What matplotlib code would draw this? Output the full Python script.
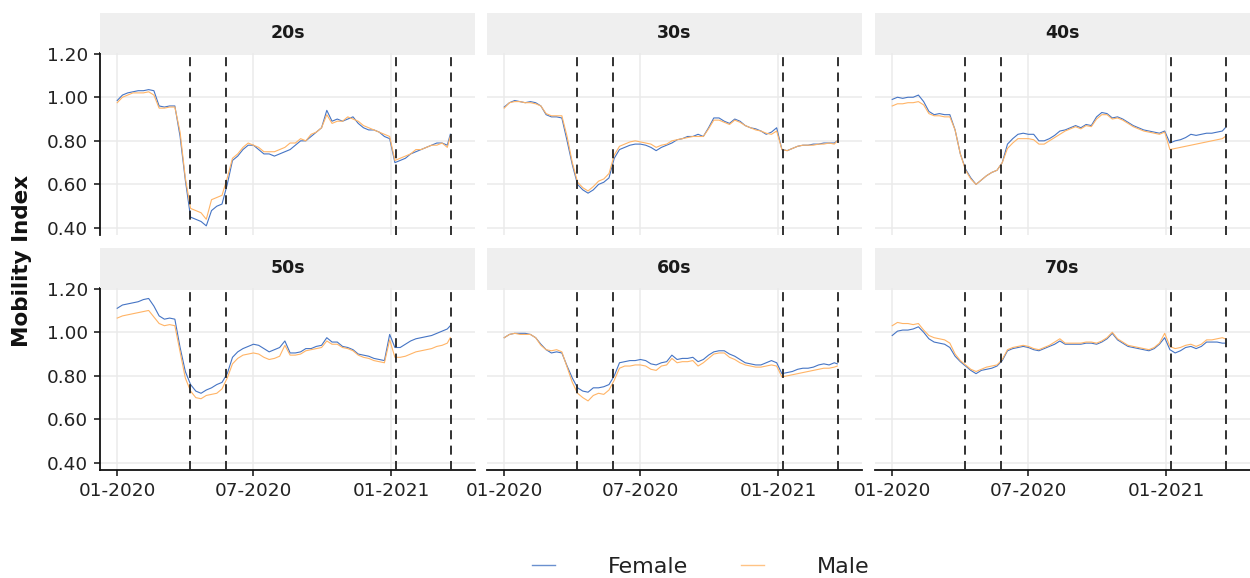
import matplotlib
matplotlib.use("Agg")
import matplotlib.pyplot as plt
import matplotlib.dates as mdates
from matplotlib.lines import Line2D
import pandas as pd

plt.rcParams['font.family'] = ['DejaVu Sans']

# weekly sample dates (2020-01-01 .. 2021-03-17) plus final day 2021-03-21
dates = list(pd.date_range("2020-01-01", periods=64, freq="7D")) + [pd.Timestamp("2021-03-21")]

age_groups = ["20s", "30s", "40s", "50s", "60s", "70s"]

female_20s = [0.985,1.01,1.02,1.025,1.03,1.03,1.035,1.03,0.96,0.955,0.96,0.96,0.82,0.62,0.45,0.44,0.43,0.41,0.48,0.50,0.51,0.60,0.71,0.73,0.76,0.78,0.78,0.76,0.74,0.74,0.73,0.74,0.75,0.76,0.78,0.80,0.80,0.82,0.84,0.86,0.94,0.89,0.90,0.89,0.90,0.91,0.88,0.86,0.85,0.85,0.84,0.82,0.81,0.70,0.71,0.72,0.74,0.75,0.76,0.77,0.78,0.79,0.79,0.78,0.83]
male_20s = [0.975,1.00,1.01,1.02,1.02,1.02,1.025,1.01,0.95,0.95,0.955,0.955,0.84,0.63,0.49,0.48,0.47,0.44,0.53,0.54,0.55,0.63,0.72,0.74,0.77,0.79,0.78,0.77,0.75,0.75,0.75,0.76,0.77,0.79,0.79,0.81,0.80,0.83,0.84,0.86,0.92,0.88,0.89,0.89,0.91,0.90,0.89,0.87,0.86,0.85,0.84,0.83,0.82,0.71,0.72,0.73,0.74,0.76,0.76,0.77,0.78,0.78,0.79,0.77,0.82]

female_30s = [0.955,0.975,0.985,0.98,0.975,0.98,0.975,0.96,0.92,0.91,0.91,0.905,0.80,0.69,0.60,0.575,0.56,0.575,0.60,0.61,0.63,0.72,0.76,0.77,0.78,0.785,0.785,0.78,0.77,0.755,0.77,0.78,0.79,0.805,0.81,0.82,0.82,0.83,0.82,0.86,0.905,0.905,0.89,0.88,0.90,0.89,0.87,0.86,0.855,0.845,0.83,0.84,0.86,0.76,0.755,0.765,0.775,0.78,0.78,0.785,0.785,0.79,0.79,0.79,0.80]
male_30s = [0.95,0.975,0.98,0.98,0.975,0.975,0.97,0.96,0.925,0.915,0.915,0.915,0.82,0.70,0.61,0.585,0.57,0.59,0.615,0.625,0.65,0.735,0.775,0.785,0.795,0.80,0.795,0.79,0.785,0.77,0.78,0.785,0.80,0.805,0.81,0.815,0.82,0.82,0.82,0.855,0.895,0.895,0.885,0.875,0.895,0.885,0.87,0.86,0.85,0.845,0.835,0.83,0.845,0.76,0.755,0.765,0.775,0.78,0.78,0.78,0.785,0.785,0.79,0.785,0.80]

female_40s = [0.99,1.00,0.995,1.00,1.00,1.01,0.98,0.935,0.92,0.925,0.92,0.92,0.85,0.74,0.67,0.63,0.60,0.62,0.64,0.655,0.665,0.70,0.785,0.81,0.83,0.835,0.83,0.83,0.80,0.80,0.81,0.825,0.845,0.85,0.86,0.87,0.86,0.875,0.87,0.91,0.93,0.925,0.905,0.91,0.90,0.885,0.87,0.86,0.85,0.845,0.84,0.835,0.845,0.79,0.80,0.805,0.815,0.83,0.825,0.83,0.835,0.835,0.84,0.845,0.86]
male_40s = [0.96,0.97,0.97,0.975,0.975,0.98,0.965,0.925,0.915,0.915,0.91,0.91,0.85,0.74,0.665,0.625,0.60,0.62,0.64,0.655,0.665,0.70,0.765,0.79,0.81,0.81,0.81,0.805,0.785,0.785,0.80,0.815,0.83,0.845,0.855,0.865,0.855,0.87,0.865,0.90,0.92,0.92,0.90,0.905,0.895,0.88,0.865,0.855,0.845,0.84,0.835,0.83,0.84,0.76,0.765,0.77,0.775,0.78,0.785,0.79,0.795,0.80,0.805,0.81,0.82]

female_50s = [1.11,1.125,1.13,1.135,1.14,1.15,1.155,1.12,1.075,1.06,1.065,1.06,0.93,0.82,0.76,0.73,0.72,0.735,0.745,0.76,0.77,0.81,0.885,0.91,0.925,0.935,0.945,0.94,0.925,0.91,0.92,0.93,0.96,0.905,0.905,0.91,0.925,0.925,0.935,0.94,0.975,0.955,0.955,0.935,0.93,0.92,0.90,0.895,0.89,0.88,0.875,0.87,0.99,0.93,0.93,0.945,0.96,0.97,0.975,0.98,0.985,0.995,1.005,1.015,1.03]
male_50s = [1.065,1.075,1.08,1.085,1.09,1.095,1.10,1.07,1.04,1.03,1.035,1.03,0.91,0.79,0.73,0.70,0.695,0.71,0.715,0.72,0.74,0.79,0.855,0.88,0.895,0.90,0.905,0.90,0.885,0.875,0.88,0.89,0.94,0.895,0.895,0.90,0.915,0.92,0.925,0.93,0.96,0.945,0.945,0.93,0.925,0.915,0.895,0.885,0.88,0.87,0.865,0.86,0.965,0.885,0.885,0.89,0.90,0.91,0.915,0.92,0.925,0.935,0.94,0.95,0.975]

female_60s = [0.975,0.99,0.995,0.995,0.995,0.99,0.975,0.945,0.92,0.905,0.91,0.905,0.845,0.79,0.745,0.73,0.725,0.745,0.745,0.75,0.76,0.80,0.86,0.865,0.87,0.87,0.875,0.87,0.855,0.85,0.86,0.865,0.895,0.875,0.88,0.88,0.885,0.865,0.875,0.895,0.91,0.915,0.915,0.90,0.89,0.875,0.86,0.855,0.85,0.85,0.86,0.87,0.86,0.81,0.815,0.82,0.83,0.835,0.835,0.84,0.85,0.855,0.85,0.86,0.855]
male_60s = [0.975,0.99,0.995,0.99,0.99,0.99,0.975,0.94,0.92,0.915,0.92,0.91,0.84,0.77,0.72,0.70,0.685,0.71,0.72,0.715,0.735,0.78,0.835,0.845,0.845,0.85,0.85,0.845,0.83,0.825,0.845,0.85,0.88,0.86,0.865,0.865,0.87,0.845,0.86,0.88,0.90,0.905,0.905,0.885,0.875,0.86,0.85,0.845,0.84,0.84,0.845,0.85,0.845,0.795,0.80,0.805,0.81,0.815,0.82,0.825,0.83,0.835,0.835,0.84,0.845]

female_70s = [0.985,1.005,1.01,1.01,1.015,1.025,1.00,0.97,0.955,0.95,0.945,0.93,0.89,0.865,0.845,0.825,0.81,0.825,0.83,0.835,0.845,0.87,0.915,0.925,0.93,0.935,0.93,0.92,0.915,0.925,0.935,0.945,0.96,0.945,0.945,0.945,0.945,0.95,0.95,0.945,0.955,0.97,0.995,0.965,0.95,0.935,0.93,0.925,0.92,0.915,0.925,0.945,0.975,0.92,0.905,0.915,0.93,0.935,0.925,0.935,0.955,0.955,0.955,0.95,0.95]
male_70s = [1.03,1.045,1.04,1.04,1.035,1.04,1.01,0.985,0.975,0.97,0.965,0.95,0.90,0.87,0.85,0.83,0.82,0.83,0.84,0.845,0.85,0.875,0.92,0.93,0.935,0.94,0.935,0.925,0.92,0.93,0.94,0.955,0.97,0.95,0.95,0.95,0.95,0.955,0.955,0.95,0.96,0.975,1.00,0.97,0.955,0.94,0.935,0.93,0.925,0.92,0.93,0.95,0.995,0.935,0.925,0.93,0.94,0.945,0.935,0.945,0.965,0.965,0.97,0.975,0.97]

female_series = [female_20s, female_30s, female_40s, female_50s, female_60s, female_70s]
male_series = [male_20s, male_30s, male_40s, male_50s, male_60s, male_70s]

emergency_dates = ["2020-04-07", "2020-05-25", "2021-01-08", "2021-03-22"]
y_ticks = [0.40, 0.60, 0.80, 1.00, 1.20]
x_tick_dates = ["2020-01-01", "2020-07-01", "2021-01-01"]

FEMALE_C = "#4574C4"
MALE_C = "#FFB466"
GRID_C = "#EBEBEB"
STRIP_C = "#EFEFEF"

W, H = 1250, 578
fig = plt.figure(figsize=(W / 100, H / 100), dpi=100)

lefts = [100, 487, 875]
tops = [53, 288]
pw, ph = 375, 182
strip_h = 40

xlim = (pd.Timestamp("2019-12-09"), pd.Timestamp("2021-04-23"))
ylim = (0.368, 1.203)

for i, grp in enumerate(age_groups):
    r, c = divmod(i, 3)
    l, t = lefts[c], tops[r]
    ax = fig.add_axes([l / W, 1 - (t + ph) / H, pw / W, ph / H])
    ax.set_xlim(*xlim)
    ax.set_ylim(*ylim)
    ax.set_yticks(y_ticks)
    ax.set_xticks([pd.Timestamp(d) for d in x_tick_dates])
    ax.xaxis.set_major_formatter(mdates.DateFormatter("%m-%Y"))
    ax.grid(True, color=GRID_C, linewidth=1.1)
    ax.set_axisbelow(True)
    for s in ax.spines.values():
        s.set_visible(False)
    ax.plot(dates, female_series[i], color=FEMALE_C, linewidth=0.8, zorder=3)
    ax.plot(dates, male_series[i], color=MALE_C, linewidth=0.8, zorder=3)
    for d in emergency_dates:
        ax.axvline(pd.Timestamp(d), color="#222222", linestyle=(0, (5, 3.5)), linewidth=1.3, zorder=4)
    ax.tick_params(axis="both", labelsize=13.3, color="#222222", length=4.5, width=1.2,
                   labelcolor="#222222", pad=4)
    if c == 0:
        ax.spines["left"].set_visible(True)
        ax.spines["left"].set_linewidth(1.3)
        ax.spines["left"].set_color("#111111")
        ax.set_yticklabels([f"{v:.2f}" for v in y_ticks])
    else:
        ax.tick_params(axis="y", left=False, labelleft=False)
    if r == 1:
        ax.spines["bottom"].set_visible(True)
        ax.spines["bottom"].set_linewidth(1.3)
        ax.spines["bottom"].set_color("#111111")
    else:
        ax.tick_params(axis="x", bottom=False, labelbottom=False)
    # strip
    sax = fig.add_axes([l / W, 1 - t / H, pw / W, strip_h / H])
    sax.set_facecolor(STRIP_C)
    sax.set_xticks([])
    sax.set_yticks([])
    for s in sax.spines.values():
        s.set_visible(False)
    sax.text(0.5, 0.5, grp, ha="center", va="center", fontsize=12.5, fontweight="bold",
             color="#1a1a1a", transform=sax.transAxes)

fig.text(22 / W, 1 - 261 / H, "Mobility Index", rotation=90, ha="center", va="center",
         fontsize=15.5, fontweight="bold", color="#111111")

handles = [Line2D([], [], color=FEMALE_C, linewidth=1.0, alpha=0.8),
           Line2D([], [], color=MALE_C, linewidth=1.0, alpha=0.8)]
fig.legend(handles, ["Female", "Male"], loc="center", bbox_to_anchor=(701 / W, 1 - 567 / H),
           ncol=2, frameon=False, fontsize=16, handlelength=1.0, handletextpad=2.4,
           columnspacing=2.4, labelcolor="#222222")

fig.savefig("out.png", dpi=100, facecolor="white")
